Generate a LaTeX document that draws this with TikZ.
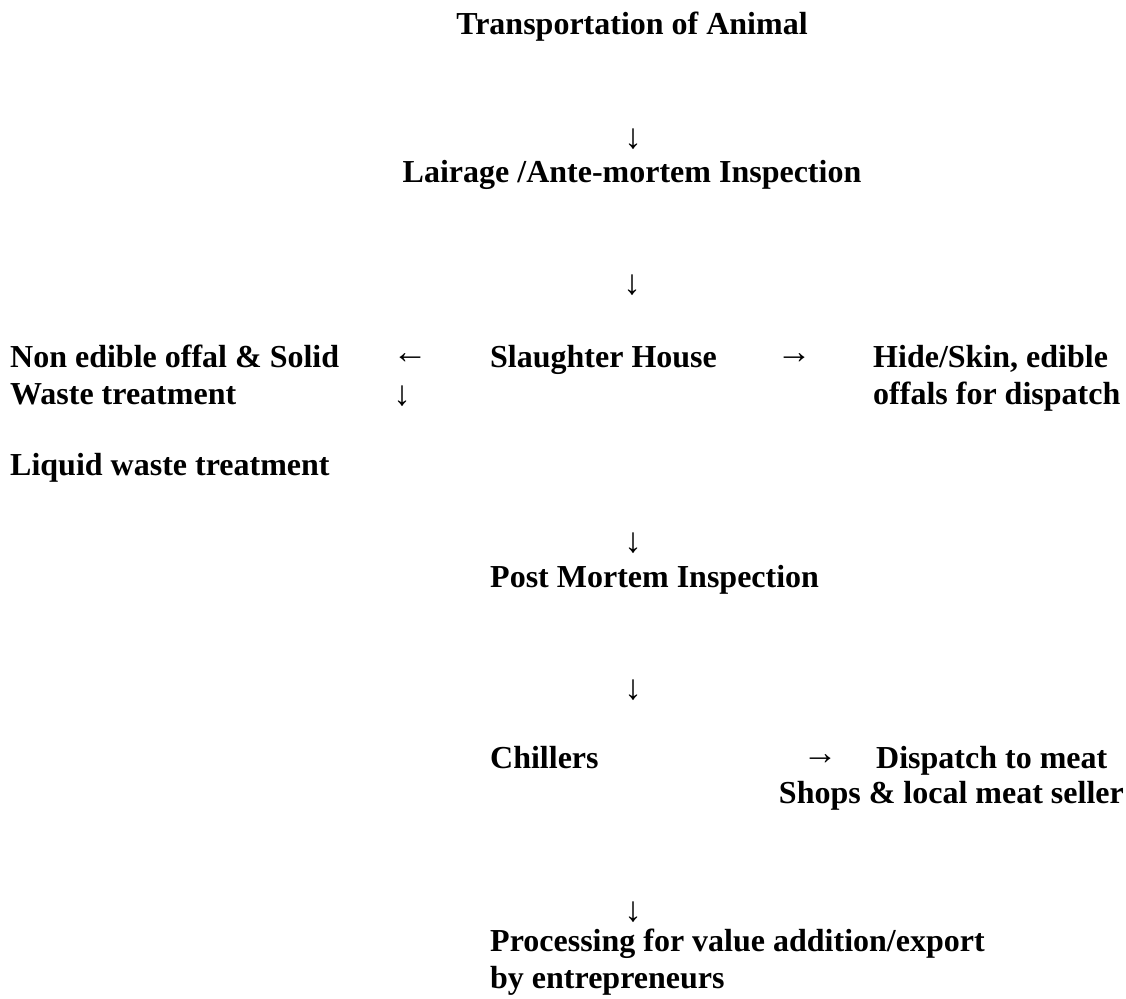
\documentclass[tikz,border=0pt]{standalone}
\usepackage{fontspec}
\setmainfont{Liberation Serif}
\usetikzlibrary{positioning}

\begin{document}
\begin{tikzpicture}[
  x=1pt, y=-1pt,
  font=\fontsize{32}{36.5}\selectfont\bfseries,
  stage/.style={inner sep=0pt, anchor=base west, align=left},
  title/.style={inner sep=0pt, anchor=base},
  flow/.style={inner sep=0pt, font=\fontsize{35}{36.5}\selectfont\mdseries}
]
\useasboundingbox (0,0) rectangle (1126,998);

% multi-line stages sit on the baseline of their last line
\node[title] (transport) at (632,35) {Transportation of Animal};
\node[flow] (d1) at (633,139) {↓};
\node[title] (lairage) at (632,182) {Lairage /Ante-mortem Inspection};
\node[flow] (d2) at (632,285) {↓};

\node[stage] (slaughter) at (490,367) {Slaughter House};
\node[flow] (toleft) at (410,359) {←};
\node[flow] (toright) at (794,359) {→};
\node[stage] (solid) at (10,404) {Non edible offal \& Solid\\Waste treatment};
\node[stage] (hide) at (873,404) {Hide/Skin, edible\\offals for dispatch};
\node[flow] (d3) at (402,396) {↓};
\node[stage] (liquid) at (10,475) {Liquid waste treatment};

\node[flow] (d4) at (633,543) {↓};
\node[stage] (post) at (490,587) {Post Mortem Inspection};
\node[flow] (d5) at (633,690) {↓};

\node[stage] (chillers) at (490,768) {Chillers};
\node[flow] (tochill) at (820,760) {→};
\node[stage] (dispatch) at (876,768) {Dispatch to meat};
\node[stage, anchor=base east] (shops) at (1124,803) {Shops \& local meat seller};

\node[flow] (d6) at (633,912) {↓};
\node[stage] (process) at (490,988) {Processing for value addition/export\\by entrepreneurs};

\end{tikzpicture}
\end{document}
